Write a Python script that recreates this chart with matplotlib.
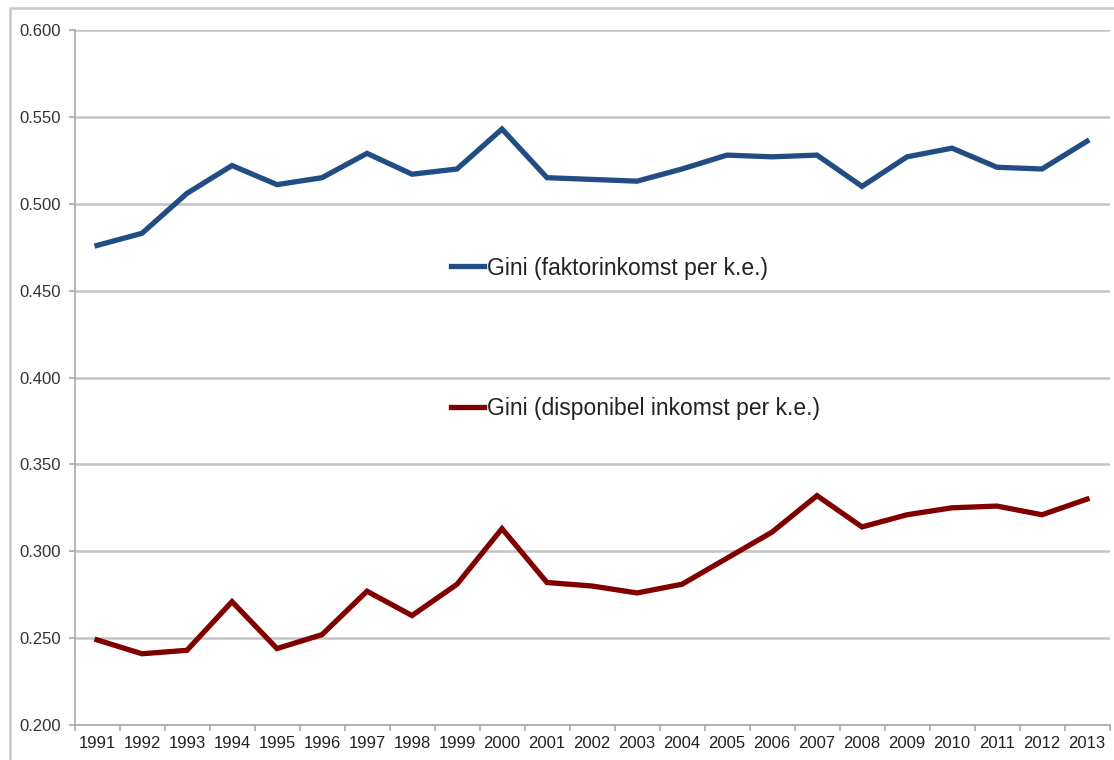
import matplotlib
matplotlib.use("Agg")
import matplotlib.pyplot as plt
from matplotlib.lines import Line2D
from matplotlib.patches import Rectangle
import numpy as np

years = [str(y) for y in range(1991, 2014)]

gini_faktor = [0.476, 0.483, 0.506, 0.522, 0.511, 0.515, 0.529, 0.517, 0.520, 0.543,
               0.515, 0.514, 0.513, 0.520, 0.528, 0.527, 0.528, 0.510, 0.527, 0.532,
               0.521, 0.520, 0.536]
gini_disp = [0.249, 0.241, 0.243, 0.271, 0.244, 0.252, 0.277, 0.263, 0.281, 0.313,
             0.282, 0.280, 0.276, 0.281, 0.296, 0.311, 0.332, 0.314, 0.321, 0.325,
             0.326, 0.321, 0.330]

label_faktor = 'Gini (faktorinkomst per k.e.)'
label_disp = 'Gini (disponibel inkomst per k.e.)'

plt.rcParams['font.family'] = ['Liberation Sans', 'DejaVu Sans']

W, H = 1114, 760
fig = plt.figure(figsize=(W / 100, H / 100), dpi=100)
ax = fig.add_axes([74.5 / W, 1 - 725 / H, 1035 / W, 695 / H])

# outer chart frame (only left/top visible in the reference)
fig.patches.append(Rectangle((10 / W, -0.1), 1.2, 1 - 8 / H + 0.1, transform=fig.transFigure,
                             fill=False, edgecolor='#c8c8c8', linewidth=1.8))

x = np.arange(len(years))
blue = '#224c84'
red = '#800000'
ax.plot(x, gini_faktor, color=blue, linewidth=3.8, solid_joinstyle='miter', zorder=3)
ax.plot(x, gini_disp, color=red, linewidth=3.8, solid_joinstyle='miter', zorder=3)

ax.set_xlim(-0.5, len(years) - 0.5)
ax.set_ylim(0.2, 0.6)
ax.set_yticks(np.arange(0.2, 0.601, 0.05))
ax.set_yticklabels([f'{v:.3f}' for v in np.arange(0.2, 0.601, 0.05)])
ax.set_xticks(x)
ax.set_xticklabels(years)
ax.set_xticks(np.arange(-0.5, len(years)), minor=True)

ax.grid(axis='y', color='#c4c4c4', linewidth=1.8, zorder=0)
ax.set_axisbelow(True)
for side in ['top', 'right']:
    ax.spines[side].set_visible(False)
for side in ['left', 'bottom']:
    ax.spines[side].set_color('#a8a8a8')
    ax.spines[side].set_linewidth(1.2)

ax.tick_params(axis='y', length=4, width=1.2, color='#a8a8a8', labelsize=12,
               labelcolor='#333333', pad=6)
ax.tick_params(axis='x', which='major', length=0, labelsize=12, labelcolor='#222222', pad=8)
ax.tick_params(axis='x', which='minor', length=4, width=1.2, color='#a8a8a8')

# two separate legend boxes, as in the original chart
h1 = [Line2D([], [], color=blue, linewidth=3.8)]
h2 = [Line2D([], [], color=red, linewidth=3.8)]
leg1 = ax.legend(h1, [label_faktor], loc='center left', frameon=False, fontsize=16.5,
                 handlelength=1.45, handletextpad=0.12,
                 bbox_to_anchor=(451 / W, 1 - 268 / H), bbox_transform=fig.transFigure,
                 borderaxespad=0, borderpad=0)
for t in leg1.get_texts():
    t.set_color('#222222')
ax.add_artist(leg1)
leg2 = ax.legend(h2, [label_disp], loc='center left', frameon=False, fontsize=16.5,
                 handlelength=1.45, handletextpad=0.12,
                 bbox_to_anchor=(451 / W, 1 - 409 / H), bbox_transform=fig.transFigure,
                 borderaxespad=0, borderpad=0)
for t in leg2.get_texts():
    t.set_color('#222222')

fig.savefig('out.png', dpi=100, facecolor='white')
